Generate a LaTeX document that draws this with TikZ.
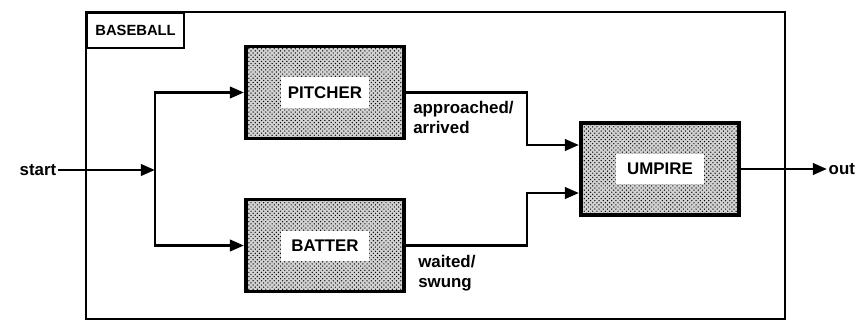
\documentclass[tikz,border=0pt]{standalone}
\usepackage{fontspec}
\setmainfont{Liberation Sans}
\usetikzlibrary{arrows.meta,patterns}

\begin{document}
\begin{tikzpicture}[x=0.025cm,y=-0.025cm,>={Triangle[length=10pt,width=8pt]},
  every node/.style={font=\fontsize{12}{14.5}\selectfont\bfseries},
  wire/.style={line width=2.1pt},
  block/.style={draw,line width=2.8pt,preaction={fill=gray!35},pattern=crosshatch dots,minimum width=3.95cm,minimum height=2.3cm,inner sep=0pt,
    label={[fill=white,minimum width=2.2cm,minimum height=0.75cm,inner sep=0pt]center:#1}},
  tag/.style={align=left,anchor=north west,inner sep=0pt}]
\useasboundingbox (0,0) rectangle (859,323);
% outer frame and its title
\draw[line width=1.9pt] (86,12) rectangle (785,319);
\node[draw,line width=1.5pt,anchor=north west,minimum width=2.425cm,minimum height=0.875cm,inner sep=0pt,font=\fontsize{10.5}{12}\selectfont\bfseries] (title) at (86,12) {BASEBALL};
% the three blocks
\node[block=PITCHER] (pitcher) at (325,92.5) {};
\node[block=BATTER] (batter) at (325,245.5) {};
\node[block=UMPIRE] (umpire) at (660,169) {};
% ends
\node[anchor=east,inner sep=1pt] (start) at (58,170) {start};
\node[anchor=west,inner sep=1pt] (out) at (827,169) {out};
\coordinate (split) at (155,170); \coordinate (bendP) at (527,92.5); \coordinate (bendB) at (527,245.5);
% connectors
\draw[wire,->] (start) -- (split);
\draw[wire,->] (split) |- (pitcher.west); \draw[wire,->] (split) |- (batter.west);
\draw[wire,->] (pitcher.east) -- (bendP) |- ([yshift=0.6cm]umpire.west);
\draw[wire,->] (batter.east) -- (bendB) |- ([yshift=-0.6cm]umpire.west);
\draw[wire,->] (umpire.east) -- (out.west);
% transition labels
\node[tag] (pitchlbl) at (413,101) {approached/\\arrived};
\node[tag] (batlbl) at (418,255) {waited/\\swung};
\end{tikzpicture}
\end{document}
